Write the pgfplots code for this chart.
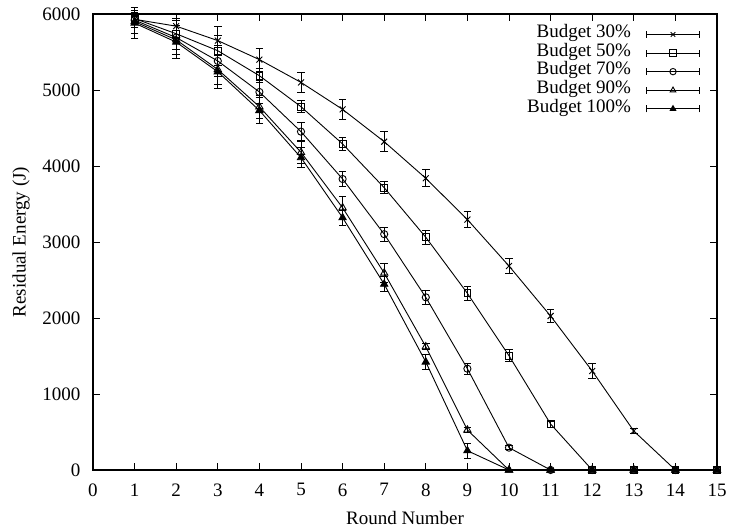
\documentclass[border=0pt]{standalone}
\usepackage{fontspec}
\setmainfont{Liberation Serif}
\usepackage{pgfplots}
\pgfplotsset{compat=1.18}
\begin{document}
\fontsize{19pt}{22pt}\selectfont
\begin{tikzpicture}
\useasboundingbox (0,0) rectangle (731pt,530pt);
\begin{axis}[
  at={(93pt,60pt)}, anchor=south west,
  width=624pt, height=456pt, scale only axis,
  xmin=0, xmax=15, ymin=0, ymax=6000,
  xtick={0,1,...,15}, ytick={0,1000,...,6000},
  minor tick num=0,
  tick align=inside, major tick length=7pt,
  tick style={line width=0.9pt, black},
  axis line style={line width=1.1pt},
  /pgf/number format/assume math mode=true,
  /pgf/number format/1000 sep={},
  xticklabel style={yshift=-7pt},
  yticklabel style={xshift=-6pt},
  xlabel={Round Number}, ylabel={Residual Energy (J)},
  every axis x label/.style={at={(axis description cs:0.5,0)}, anchor=center, yshift=-48pt},
  every axis y label/.style={at={(axis description cs:-0.1154,0.5)}, rotate=90, anchor=center},
  clip=false,
  legend style={draw=none, fill=none, at={(0.973,0.976)}, anchor=north east,
    inner sep=0pt, row sep=0pt, column sep=15pt,
    nodes={inner sep=0pt, text height=12.6pt, text depth=6pt}},
  legend cell align=right,
  legend plot pos=right,
  legend image code/.code={
    \draw[#1] (0pt,0pt) -- (53pt,0pt);
    \draw[#1] (0pt,-3.5pt) -- (0pt,3.5pt);
    \draw[#1] (53pt,-3.5pt) -- (53pt,3.5pt);
    \draw[#1, mark size=3.2pt] plot coordinates {(26.5pt,0pt)};
  },
  every axis plot/.append style={black, line width=0.9pt, mark options={solid, line width=0.9pt},
    error bars/y dir=both, error bars/y explicit,
    error bars/error bar style={line width=0.9pt},
    error bars/error mark options={rotate=90, mark size=3.8pt, line width=0.9pt}},
]
\addplot[mark=x, mark size=4.2pt] coordinates {
 (1,5930) +- (0,40) (2,5840) +- (0,160) (3,5650) +- (0,180) (4,5400) +- (0,150)
 (5,5100) +- (0,130) (6,4745) +- (0,130) (7,4320) +- (0,130) (8,3838) +- (0,110)
 (9,3295) +- (0,110) (10,2684) +- (0,100) (11,2026) +- (0,90) (12,1303) +- (0,100)
 (13,513) +- (0,30) (14,0) +- (0,0) (15,0) +- (0,0)};
\addlegendentry{Budget 30\%}
\addplot[mark=square, mark size=3.4pt] coordinates {
 (1,5940) +- (0,60) (2,5740) +- (0,200) (3,5517) +- (0,200) (4,5188) +- (0,90)
 (5,4780) +- (0,80) (6,4290) +- (0,90) (7,3715) +- (0,80) (8,3062) +- (0,90)
 (9,2325) +- (0,90) (10,1504) +- (0,80) (11,605) +- (0,40) (12,0) +- (0,0)
 (13,0) +- (0,0) (14,0) +- (0,0) (15,0) +- (0,0)};
\addlegendentry{Budget 50\%}
\addplot[mark=o, mark size=3.6pt] coordinates {
 (1,5920) +- (0,100) (2,5690) +- (0,220) (3,5382) +- (0,200) (4,4974) +- (0,150)
 (5,4452) +- (0,125) (6,3829) +- (0,100) (7,3103) +- (0,90) (8,2272) +- (0,90)
 (9,1333) +- (0,70) (10,294) +- (0,30) (11,0) +- (0,0) (12,0) +- (0,0)
 (13,0) +- (0,0) (14,0) +- (0,0) (15,0) +- (0,0)};
\addlegendentry{Budget 70\%}
\addplot[mark=triangle, mark size=4.2pt] coordinates {
 (1,5900) +- (0,150) (2,5660) +- (0,250) (3,5270) +- (0,200) (4,4780) +- (0,150)
 (5,4180) +- (0,150) (6,3451) +- (0,150) (7,2592) +- (0,130) (8,1623) +- (0,40)
 (9,526) +- (0,30) (10,0) +- (0,0) (11,0) +- (0,0) (12,0) +- (0,0)
 (13,0) +- (0,0) (14,0) +- (0,0) (15,0) +- (0,0)};
\addlegendentry{Budget 90\%}
\addplot[mark=triangle*, mark size=4.2pt, mark options={fill=black}] coordinates {
 (1,5880) +- (0,200) (2,5630) +- (0,220) (3,5240) +- (0,220) (4,4730) +- (0,170)
 (5,4110) +- (0,130) (6,3320) +- (0,100) (7,2445) +- (0,100) (8,1421) +- (0,100)
 (9,254) +- (0,100) (10,0) +- (0,0) (11,0) +- (0,0) (12,0) +- (0,0)
 (13,0) +- (0,0) (14,0) +- (0,0) (15,0) +- (0,0)};
\addlegendentry{Budget 100\%}
\end{axis}
\end{tikzpicture}
\end{document}
